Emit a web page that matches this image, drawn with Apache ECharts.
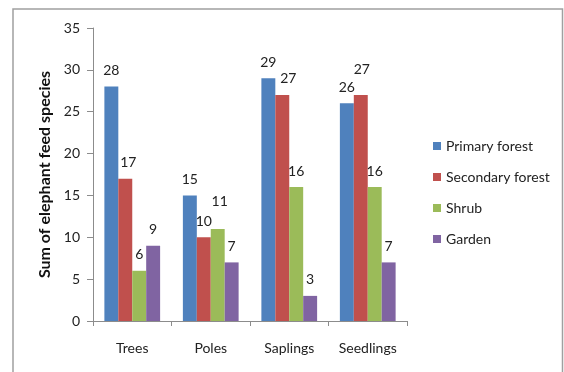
<!DOCTYPE html>
<html>
<head>
<meta charset="utf-8">
<script src="https://cdn.jsdelivr.net/npm/echarts@6/dist/echarts.min.js"></script>
<style>
  html, body { margin: 0; padding: 0; background: #fff; }
  #chart { width: 564px; height: 372px; }
</style>
</head>
<body>
<div id="chart"></div>
<script>
  // 类别与数值
  var categories = ["Trees", "Poles", "Saplings", "Seedlings"];
  var seriesNames = ["Primary forest", "Secondary forest", "Shrub", "Garden"];
  var primaryForest = [28, 15, 29, 26];
  var secondaryForest = [17, 10, 27, 27];
  var shrub = [6, 11, 16, 16];
  var garden = [9, 7, 3, 7];

  var colors = ["#4F81BD", "#C0504D", "#9BBB59", "#8064A2"];
  // 个别数据标签的偏移 [series, index, dx, dy]（仿照原图的手工位置）
  var labelNudge = [[1, 0, 3, 0], [2, 1, 2, -11], [1, 2, 6, 0], [1, 3, 1, -9]];

  var fontFamily = "Lato, 'Open Sans', sans-serif";

  function buildData(values, s) {
    return values.map(function (v, i) {
      var item = { value: v };
      labelNudge.forEach(function (n) {
        if (n[0] === s && n[1] === i) {
          item.label = { offset: [n[2], n[3]] };
        }
      });
      return item;
    });
  }

  var allValues = [primaryForest, secondaryForest, shrub, garden];

  var series = allValues.map(function (vals, s) {
    return {
      name: seriesNames[s],
      type: "bar",
      barGap: "0%",
      barCategoryGap: "29%",
      itemStyle: { color: colors[s] },
      label: {
        show: true,
        position: "top",
        distance: 9,
        fontSize: 14,
        color: "#222",
        fontFamily: fontFamily
      },
      data: buildData(vals, s)
    };
  });

  var myChart = echarts.init(document.getElementById("chart"), null, { renderer: "canvas" });

  var option = {
    animation: false,
    color: colors,
    textStyle: { fontFamily: fontFamily },
    graphic: [
      {
        // 外框
        type: "rect",
        shape: { x: 13, y: 9, width: 549.5, height: 400 },
        style: { fill: "none", stroke: "#a0a0a0", lineWidth: 1.5 },
        silent: true
      }
    ],
    grid: { left: 93, right: 157, top: 28, bottom: 51 },
    legend: {
      orient: "vertical",
      left: 428,
      top: 134,
      itemWidth: 8,
      itemHeight: 8,
      itemGap: 17,
      icon: "rect",
      textStyle: { fontSize: 14, color: "#222", fontFamily: fontFamily },
      data: seriesNames
    },
    xAxis: {
      type: "category",
      data: categories,
      axisLine: { lineStyle: { color: "#8c8c8c" } },
      axisTick: { show: true, length: 5, lineStyle: { color: "#8c8c8c" } },
      axisLabel: { margin: 20, fontSize: 14, color: "#222", fontFamily: fontFamily }
    },
    yAxis: {
      type: "value",
      min: 0,
      max: 35,
      interval: 5,
      name: "Sum of elephant feed species",
      nameLocation: "middle",
      nameGap: 40,
      nameTextStyle: { fontSize: 16, fontWeight: "bold", color: "#111", fontFamily: fontFamily },
      splitLine: { show: false },
      axisLine: { show: true, lineStyle: { color: "#8c8c8c" } },
      axisTick: { show: true, length: 6, lineStyle: { color: "#8c8c8c" } },
      axisLabel: { margin: 13, fontSize: 14, color: "#222", fontFamily: fontFamily }
    },
    series: series
  };

  myChart.setOption(option);
</script>
</body>
</html>
